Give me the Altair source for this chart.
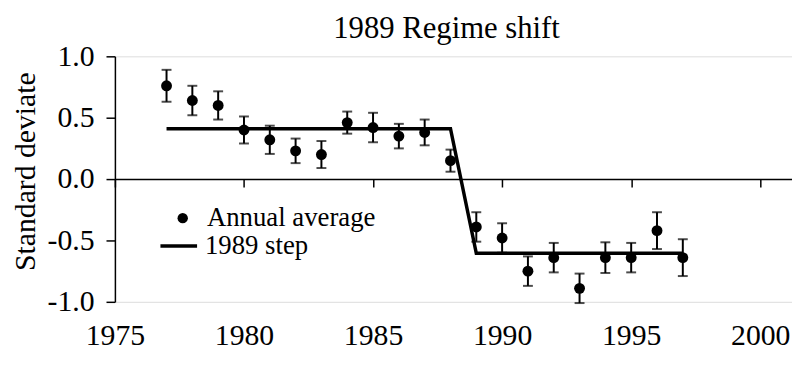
import altair as alt
import pandas as pd

# ---- data ----
years = list(range(1977, 1998))
means = [0.76, 0.64, 0.60, 0.40, 0.32, 0.23, 0.20, 0.46, 0.42, 0.35, 0.38, 0.15,
         -0.39, -0.48, -0.75, -0.64, -0.89, -0.64, -0.64, -0.42, -0.64]
errs = [0.13, 0.12, 0.115, 0.11, 0.115, 0.10, 0.11, 0.09, 0.12, 0.10, 0.105, 0.09,
        0.12, 0.12, 0.12, 0.12, 0.12, 0.125, 0.12, 0.15, 0.15]
step_years = [1977, 1988, 1989, 1997]
step_values = [0.41, 0.41, -0.605, -0.605]
x_ticks = [1975, 1980, 1985, 1990, 1995, 2000]
y_ticks = [-1.0, -0.5, 0.0, 0.5, 1.0]
point_label = "Annual average"
line_label = "1989 step"
title_text = "1989 Regime shift"
y_title = "Standard deviate"

df = pd.DataFrame({"year": years, "mean": means, "err": errs})
df["lo"] = df["mean"] - df["err"]
df["hi"] = df["mean"] + df["err"]
df["series"] = point_label
step_df = pd.DataFrame({"year": step_years, "value": step_values})
step_df["series"] = line_label

FONT = "Liberation Serif"
W, H = 684, 248

xscale = alt.Scale(domain=[1975, 2001.23], nice=False, zero=False)
yscale = alt.Scale(domain=[-1, 1], nice=False)

xaxis = alt.Axis(values=x_ticks, format="d", offset=-H / 2, tickSize=8,
                 labelPadding=135, grid=False, title=None,
                 domainColor="black", tickColor="black", domainWidth=1.5, tickWidth=1.5,
                 labelFont=FONT, labelFontSize=30, labelColor="black",
                 labelOverlap=False, labelFlush=False)
yaxis = alt.Axis(values=y_ticks,
                 labelExpr="(datum.value < 0 ? '-' : '') + format(abs(datum.value), '.1f')",
                 tickSize=9, labelPadding=12, grid=False,
                 domainColor="black", tickColor="black", domainWidth=1.5, tickWidth=1.5,
                 labelFont=FONT, labelFontSize=30, labelColor="black",
                 title=y_title, titleFont=FONT, titleFontSize=30, titleFontWeight="normal",
                 titleColor="black", titleX=-90, titleY=116, titleAngle=270,
                 titleAlign="center", titleBaseline="middle")

step_line = alt.Chart(step_df).mark_line(strokeWidth=3.5).encode(
    x=alt.X("year:Q", scale=xscale, axis=xaxis),
    y=alt.Y("value:Q", scale=yscale, axis=yaxis),
    color=alt.Color("series:N",
                    scale=alt.Scale(domain=[line_label], range=["black"]),
                    legend=alt.Legend(title=None, orient="none", legendX=44, legendY=171,
                                      padding=0, labelFont=FONT, labelFontSize=27,
                                      labelColor="black", symbolType="stroke",
                                      symbolSize=1369, symbolStrokeWidth=3.5,
                                      labelOffset=6, labelLimit=400)),
)

errbars = alt.Chart(df).mark_errorbar(ticks=True, size=10, thickness=2, color="black").encode(
    x=alt.X("year:Q", scale=xscale, axis=xaxis),
    y=alt.Y("lo:Q", scale=yscale, axis=yaxis),
    y2="hi:Q",
)

points = alt.Chart(df).mark_point(filled=True, size=121, opacity=1, color="black").encode(
    x=alt.X("year:Q", scale=xscale, axis=xaxis),
    y=alt.Y("mean:Q", scale=yscale, axis=yaxis),
    shape=alt.Shape("series:N",
                    scale=alt.Scale(domain=[point_label], range=["circle"]),
                    legend=alt.Legend(title=None, orient="none", legendX=55, legendY=150,
                                      padding=0, labelFont=FONT, labelFontSize=27,
                                      labelColor="black", symbolSize=110,
                                      symbolFillColor="black", symbolOpacity=1,
                                      labelOffset=11, labelLimit=400)),
)

chart = alt.layer(step_line, errbars, points).properties(
    width=W, height=H,
    padding={"left": 108, "top": 47, "right": 0, "bottom": 63},
    autosize=alt.AutoSizeParams(type="none"),
    title=alt.TitleParams(title_text, font=FONT, fontSize=31, fontWeight="normal",
                          color="black", anchor="middle", dx=-7, dy=27,
                          baseline="alphabetic", offset=0),
).configure_view(stroke=None).configure(background="white")

chart.save("out.html", embed_options={"renderer": "svg", "actions": False})
